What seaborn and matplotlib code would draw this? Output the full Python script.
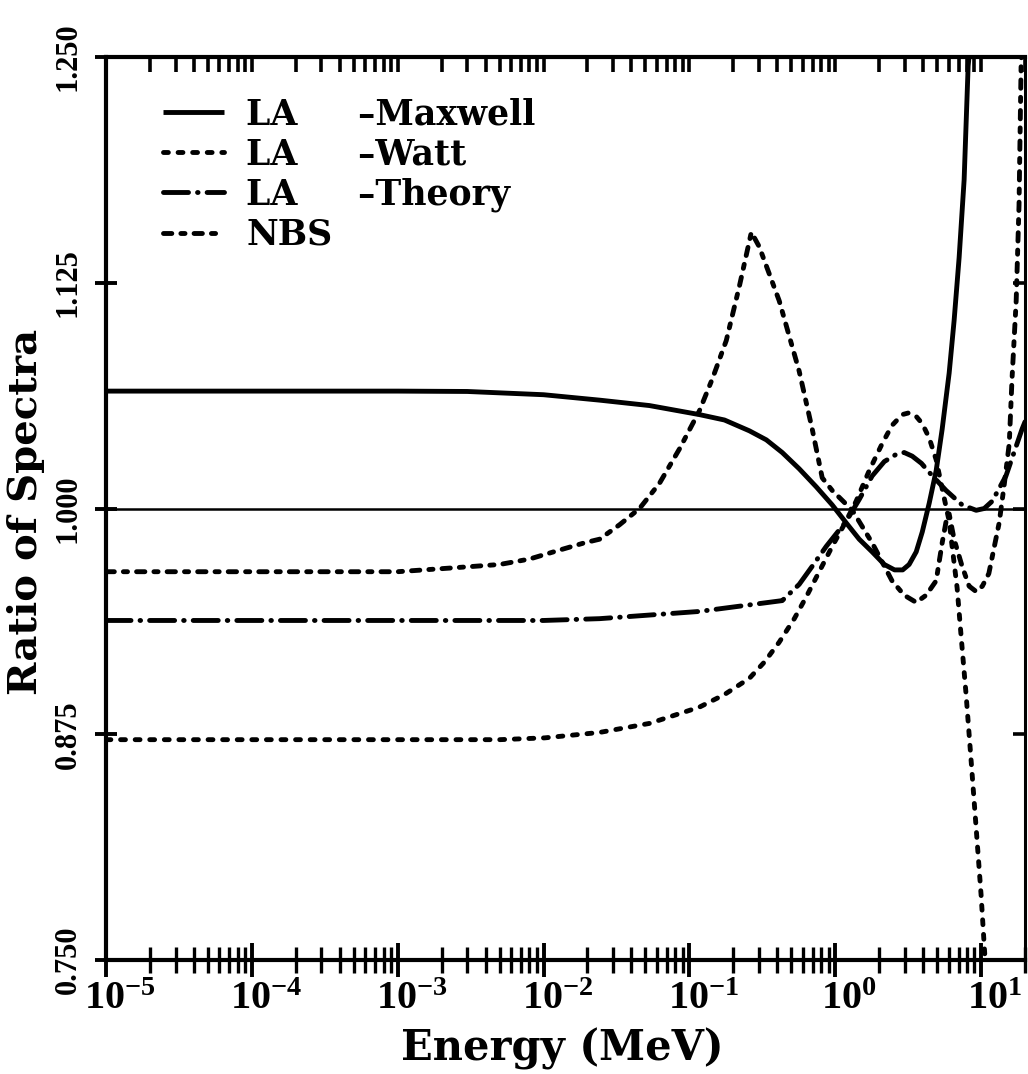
import matplotlib
matplotlib.use("Agg")
import matplotlib.pyplot as plt
import matplotlib.transforms as mtransforms
import pandas as pd
import seaborn as sns
from matplotlib.lines import Line2D

# ---- data: neutron spectrum ratios versus energy (MeV) ----
maxwell_energy = [1e-5, 1e-4, 1e-3, 3e-3, 0.01, 0.0242, 0.0532, 0.117, 0.174, 0.258, 0.337,
                  0.433, 0.566, 0.741, 0.953, 1.19, 1.46, 1.79, 2.17, 2.55, 2.90, 3.21,
                  3.59, 3.95, 4.41, 4.92, 5.41, 6.04, 6.53, 7.07, 7.65, 8.15, 8.55]
maxwell_ratio = [1.065, 1.065, 1.065, 1.0648, 1.063, 1.060, 1.057, 1.052, 1.049, 1.043, 1.038,
                 1.031, 1.022, 1.012, 1.002, 0.992, 0.983, 0.976, 0.969, 0.966, 0.966, 0.969,
                 0.976, 0.987, 1.003, 1.021, 1.044, 1.075, 1.104, 1.139, 1.182, 1.245, 1.262]

watt_energy = [1e-5, 1e-4, 1e-3, 5e-3, 0.0102, 0.0242, 0.0532, 0.117, 0.174, 0.258, 0.327,
               0.413, 0.524, 0.632, 0.776, 0.953, 1.15, 1.39, 1.71, 2.10, 2.45, 2.88, 3.21,
               3.59, 3.95, 4.41, 4.92, 5.41, 6.04, 6.33, 6.85, 7.30, 7.89, 8.55, 9.25, 10.0,
               10.6, 11.0]
watt_ratio = [0.872, 0.872, 0.872, 0.872, 0.873, 0.876, 0.881, 0.890, 0.897, 0.906, 0.915,
              0.926, 0.939, 0.951, 0.965, 0.979, 0.991, 1.004, 1.021, 1.036, 1.046, 1.052, 1.053,
              1.051, 1.047, 1.039, 1.027, 1.011, 0.993, 0.979, 0.956, 0.929, 0.897, 0.860, 0.823,
              0.786, 0.753, 0.739]

theory_energy = [1e-5, 1e-4, 1e-3, 0.01, 0.0242, 0.117, 0.433, 0.566, 0.695, 0.867, 1.19,
                 1.46, 1.79, 2.17, 2.62, 2.97, 3.37, 3.90, 4.41, 5.75, 7.41, 9.25, 10.5, 11.9,
                 14.8, 19.1, 20.0]
theory_ratio = [0.938, 0.938, 0.938, 0.938, 0.939, 0.943, 0.949, 0.958, 0.968, 0.979, 0.993,
                1.005, 1.018, 1.026, 1.030, 1.031, 1.029, 1.025, 1.020, 1.010, 1.002, 0.999, 1.000,
                1.004, 1.018, 1.044, 1.048]

nbs_energy = [1e-5, 1e-4, 1e-3, 2.27e-3, 5e-3, 8e-3, 0.0129, 0.0191, 0.0242, 0.0332, 0.0455,
              0.0624, 0.0855, 0.117, 0.144, 0.179, 0.22, 0.266, 0.301, 0.413, 0.566, 0.695,
              0.814, 0.953, 1.31, 1.79, 2.45, 2.97, 3.59, 4.20, 4.92, 5.41, 5.85, 6.04, 6.53,
              7.41, 8.28, 9.25, 10.2, 11.3, 13.3, 14.4, 15.6, 16.3, 17.4, 18.2, 18.8, 19.2]
nbs_ratio = [0.965, 0.965, 0.965, 0.967, 0.969, 0.972, 0.977, 0.981, 0.983, 0.991, 1.000,
             1.014, 1.033, 1.054, 1.072, 1.093, 1.123, 1.153, 1.145, 1.115, 1.076, 1.044,
             1.017, 1.010, 0.999, 0.981, 0.960, 0.952, 0.948, 0.952, 0.960, 0.981, 0.996,
             0.997, 0.983, 0.968, 0.957, 0.954, 0.957, 0.964, 0.992, 1.013, 1.036, 1.072,
             1.115, 1.168, 1.245, 1.270]

series_names = ["LA-Maxwell", "LA-Watt", "LA-Theory", "NBS"]
legend_labels = ["LA     \u2013Maxwell", "LA     \u2013Watt", "LA     \u2013Theory", "NBS"]

x_ticks = [1e-5, 1e-4, 1e-3, 1e-2, 1e-1, 1e0, 1e1]
x_tick_labels = [r"$10^{-5}$", r"$10^{-4}$", r"$10^{-3}$", r"$10^{-2}$",
                 r"$10^{-1}$", r"$10^{0}$", r"$10^{1}$"]
y_ticks = [0.750, 0.875, 1.000, 1.125, 1.250]
y_tick_labels = ["0.750", "0.875", "1.000", "1.125", "1.250"]

# ---- long-form table for seaborn ----
frames = []
for name, e, r in zip(series_names,
                      [maxwell_energy, watt_energy, theory_energy, nbs_energy],
                      [maxwell_ratio, watt_ratio, theory_ratio, nbs_ratio]):
    frames.append(pd.DataFrame({"energy": e, "ratio": r, "series": name}))
df = pd.concat(frames, ignore_index=True)

sns.set_theme(style="ticks")
plt.rcParams["font.family"] = ["DejaVu Serif", "DejaVu Sans"]
plt.rcParams["font.weight"] = "bold"
for key in ["text.color", "axes.labelcolor", "xtick.color", "ytick.color",
            "axes.edgecolor"]:
    plt.rcParams[key] = "black"
plt.rcParams["lines.scale_dashes"] = False
plt.rcParams["mathtext.fontset"] = "custom"
plt.rcParams["mathtext.rm"] = "Liberation Serif:bold"
plt.rcParams["mathtext.bf"] = "Liberation Serif:bold"
plt.rcParams["mathtext.it"] = "Liberation Serif:bold"

# dash patterns in points
dash_map = {
    "LA-Maxwell": "",
    "LA-Watt": (3.5, 7.0),
    "LA-Theory": (18.0, 6.5, 0.4, 6.5),
    "NBS": (6.0, 6.5, 3.0, 6.5),
}
LW = 3.5

fig = plt.figure(figsize=(10.28, 10.74), dpi=100)
ax = fig.add_axes([106 / 1028, 1 - 960 / 1074, 919 / 1028, 903 / 1074])

sns.lineplot(data=df, x="energy", y="ratio", style="series", dashes=dash_map,
             style_order=series_names, color="black", linewidth=LW,
             estimator=None, sort=False, legend=False, ax=ax,
             dash_capstyle="round", solid_capstyle="round")

ax.axhline(1.0, color="black", lw=1.8, zorder=1)

ax.set_xscale("log")
ax.set_xlim(1e-5, 20)
ax.set_ylim(0.75, 1.25)

minor_x = [m * 10.0 ** k for k in range(-5, 2) for m in range(2, 10) if m * 10.0 ** k <= 20]

ax.set_xticks(x_ticks, x_tick_labels)
ax.set_xticks(minor_x, minor=True)
ax.set_yticks(y_ticks, y_tick_labels)
ax.tick_params(axis="x", which="major", direction="inout", length=24, width=2.8,
               pad=2, labelsize=29, top=False)
ax.tick_params(axis="x", which="minor", direction="inout", length=19, width=2.4,
               top=False, labelbottom=False)
ax.tick_params(axis="y", which="major", direction="inout", length=16, width=2.8,
               pad=9, labelsize=22, right=False)
shift = mtransforms.ScaledTranslation(10 / 72, 0, fig.dpi_scale_trans)
for lab in ax.get_xticklabels():
    lab.set_transform(lab.get_transform() + shift)
for lab in ax.get_yticklabels():
    lab.set_rotation(90)
    lab.set_va("center")
    lab.set_ha("right")
    lab.set_family("Liberation Serif")
    lab.set_weight("bold")

ax.set_xlabel("Energy (MeV)", fontsize=30, fontweight="bold")
ax.xaxis.set_label_coords(0.497, -0.075)
ax.xaxis.label.set_va("top")
ax.set_ylabel("Ratio of Spectra", fontsize=29, fontweight="bold")
ax.yaxis.set_label_coords(-0.066, 0.496)

for side in ["left", "bottom", "top"]:
    ax.spines[side].set_linewidth(3.0)
ax.spines["right"].set_linewidth(2.2)

# inward ticks along the top edge
ax_top = ax.twiny()
ax_top.set_xscale("log")
ax_top.set_xlim(ax.get_xlim())
ax_top.set_xticks(x_ticks, [""] * len(x_ticks))
ax_top.set_xticks(minor_x, minor=True)
ax_top.tick_params(axis="x", which="both", direction="in", length=11, width=2.6,
                   top=True, bottom=False, labeltop=False)
for s in ax_top.spines.values():
    s.set_visible(False)

# inward ticks along the right edge
ax_r = ax.twinx()
ax_r.set_ylim(ax.get_ylim())
ax_r.set_yticks([0.875, 1.0, 1.125], ["", "", ""])
ax_r.tick_params(axis="y", direction="in", length=9, width=2.6, right=True,
                 left=False, labelright=False)
for s in ax_r.spines.values():
    s.set_visible(False)

handles = [Line2D([0], [0], color="black", lw=LW, solid_capstyle="butt")]
for name in series_names[1:]:
    handles.append(Line2D([0], [0], color="black", lw=LW, dashes=dash_map[name],
                          dash_capstyle="round"))
ax_r.legend(handles, legend_labels, loc="upper left",
            bbox_to_anchor=(0.062, 0.955), frameon=False, borderpad=0,
            borderaxespad=0, labelspacing=0.17, handlelength=1.75,
            handletextpad=0.65, prop={"family": "DejaVu Serif", "weight": "bold",
                                      "size": 25})

fig.savefig("out.png", dpi=100, facecolor="white")
